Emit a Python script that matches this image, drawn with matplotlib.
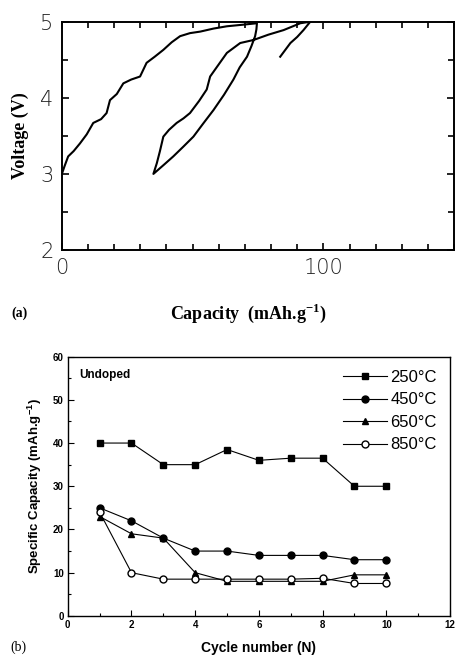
import matplotlib
matplotlib.use('Agg')
import matplotlib.pyplot as plt
from matplotlib.ticker import MultipleLocator

# (a) charge/discharge curve, capacity (mAh/g) vs voltage (V)
capacity = [0, 1.0, 2.4, 4.5, 6.9, 9.5, 12.0, 15.0, 17.1, 18.4, 21.0, 23.5, 26.5, 29.9, 32.4,
            35.5, 38.8, 42.0, 45.2, 49.0, 52.9, 58.0, 63.1, 69.0, 74.6,
            74.4, 73.9, 72.5, 70.8, 68.0, 65.6, 62.0, 58.0, 54.0, 50.3, 46.5, 42.6, 39.0, 35.0,
            36.3, 37.5, 38.8, 41.0, 43.9, 46.5, 49.0, 52.5, 55.4, 56.7, 60.0, 63.1, 68.2, 73.3,
            79.0, 84.8, 91.2, 95.0,
            92.4, 90.0, 87.4, 83.5]
voltage = [3.00, 3.10, 3.23, 3.30, 3.40, 3.52, 3.67, 3.72, 3.80, 3.97, 4.05, 4.19, 4.24, 4.28, 4.46,
           4.54, 4.63, 4.73, 4.81, 4.85, 4.87, 4.91, 4.94, 4.96, 4.98,
           4.90, 4.81, 4.68, 4.54, 4.40, 4.24, 4.04, 3.84, 3.66, 3.49, 3.36, 3.23, 3.12, 3.00,
           3.14, 3.30, 3.49, 3.58, 3.67, 3.73, 3.80, 3.96, 4.11, 4.28, 4.44, 4.59, 4.72, 4.76,
           4.83, 4.89, 4.98, 5.00,
           4.89, 4.80, 4.72, 4.54]

# (b) specific capacity per cycle for each anneal temperature
cycles = [1, 2, 3, 4, 5, 6, 7, 8, 9, 10]
cap_250 = [40, 40, 35, 35, 38.5, 36, 36.5, 36.5, 30, 30]
cap_450 = [25, 22, 18, 15, 15, 14, 14, 14, 13, 13]
cap_650 = [23, 19, 18, 10, 8, 8, 8, 8, 9.5, 9.5]
cap_850 = [24, 10, 8.5, 8.5, 8.5, 8.5, 8.5, 8.7, 7.5, 7.5]
temps = ['250°C', '450°C', '650°C', '850°C']

fig = plt.figure(figsize=(4.55, 6.58), dpi=100)

# ---- panel (a)
ax1 = fig.add_axes([0.136, 0.620, 0.862, 0.347])
ax1.plot(capacity, voltage, color='black', lw=1.5)
ax1.set_xlim(0, 150)
ax1.set_ylim(2, 5)
ax1.xaxis.set_major_locator(MultipleLocator(100))
ax1.xaxis.set_minor_locator(MultipleLocator(10))
ax1.yaxis.set_major_locator(MultipleLocator(1))
ax1.yaxis.set_minor_locator(MultipleLocator(0.5))
ax1.tick_params(which='both', direction='in', top=True, right=True, width=1.2)
ax1.tick_params(which='major', length=5, labelsize=15, pad=6, labelcolor='#222222')
ax1.tick_params(which='minor', length=4)
for lab in ax1.get_xticklabels() + ax1.get_yticklabels():
    lab.set_fontfamily('DejaVu Sans')
    lab.set_fontweight('light')
for s in ax1.spines.values():
    s.set_linewidth(1.4)
ax1.set_ylabel('Voltage (V)', family='Liberation Serif', fontweight='bold', fontsize=13, labelpad=8)
fig.text(0.547, 0.524, r'Capacity  (mAh.g$^{\mathregular{-1}}$)', family='Liberation Serif',
         fontweight='bold', fontsize=13, ha='center', va='center')
fig.text(0.026, 0.524, '(a)', family='Liberation Serif', fontweight='bold', fontsize=10,
         va='center')

# ---- panel (b)
ax2 = fig.add_axes([0.149, 0.064, 0.840, 0.394])
ax2.plot(cycles, cap_250, '-s', color='black', lw=0.8, ms=5, label=temps[0])
ax2.plot(cycles, cap_450, '-o', color='black', lw=0.8, ms=5, label=temps[1])
ax2.plot(cycles, cap_650, '-^', color='black', lw=0.8, ms=5, label=temps[2])
ax2.plot(cycles, cap_850, '-o', color='black', mfc='white', lw=0.8, ms=5, label=temps[3])
ax2.set_xlim(0, 12)
ax2.set_ylim(0, 60)
ax2.xaxis.set_major_locator(MultipleLocator(2))
ax2.xaxis.set_minor_locator(MultipleLocator(1))
ax2.yaxis.set_major_locator(MultipleLocator(10))
ax2.yaxis.set_minor_locator(MultipleLocator(5))
ax2.tick_params(which='both', direction='in', width=0.8)
ax2.tick_params(which='major', length=4, labelsize=7, pad=3)
ax2.tick_params(which='minor', length=2.5)
for lab in ax2.get_xticklabels() + ax2.get_yticklabels():
    lab.set_fontfamily('Liberation Sans')
    lab.set_fontweight('bold')
for s in ax2.spines.values():
    s.set_linewidth(1.0)
ax2.set_ylabel(r'Specific Capacity (mAh.g$^{\mathregular{-1}}$)', family='Liberation Sans',
               fontweight='bold', fontsize=9.5, labelpad=6)
ax2.set_xlabel('Cycle number (N)', family='Liberation Sans', fontweight='bold',
               fontsize=10, labelpad=8)
ax2.text(0.03, 0.93, 'Undoped', transform=ax2.transAxes, family='Liberation Sans',
         fontweight='bold', fontsize=8.5, va='center')
fig.text(0.022, 0.016, '(b)', family='Liberation Serif', fontsize=10, va='center')
leg = ax2.legend(loc='upper right', frameon=False, handlelength=2.6,
                 handletextpad=0.2, labelspacing=0.45, borderaxespad=0.4,
                 prop={'family': 'Liberation Sans', 'size': 12})

fig.savefig('out.png', dpi=100)
